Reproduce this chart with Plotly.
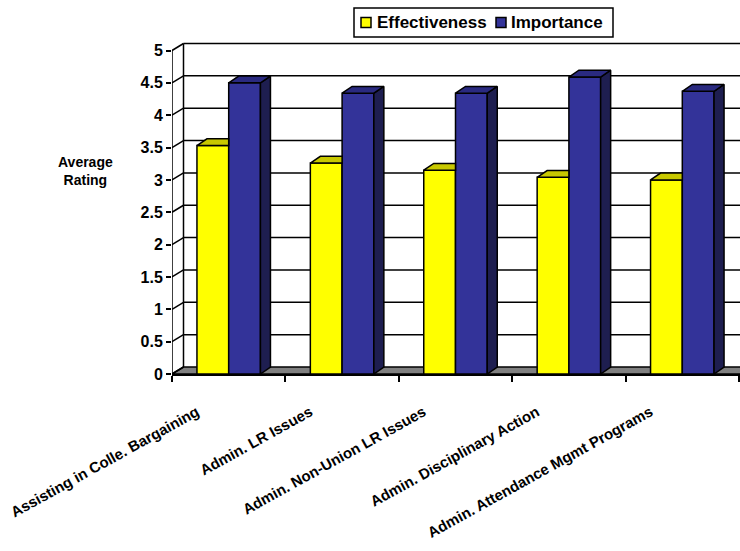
import plotly.graph_objects as go

# ---------------- data ----------------
categories = [
    "Assisting in Colle. Bargaining",
    "Admin. LR Issues",
    "Admin. Non-Union LR Issues",
    "Admin. Disciplinary Action",
    "Admin. Attendance Mgmt Programs",
]
effectiveness = [3.53, 3.26, 3.15, 3.04, 3.00]
importance = [4.50, 4.34, 4.34, 4.59, 4.37]
y_tick_values = [0, 0.5, 1, 1.5, 2, 2.5, 3, 3.5, 4, 4.5, 5]
y_tick_labels = ["0", "0.5", "1", "1.5", "2", "2.5", "3", "3.5", "4", "4.5", "5"]
series_names = ["Effectiveness", "Importance"]

# ---------------- styling / layout ----------------
W, H = 740, 551
FONT = "Liberation Sans, Arial, sans-serif"
YEL, YEL_TOP = "#FFFF00", "#C8C800"
BLU, BLU_TOP, BLU_SIDE = "#333399", "#2A2A80", "#1E1E50"
LW = 1.5

px_left = 172.0
px_right_front = 739.0
px_zero = 374.0
px_unit_y = 64.7
px_top = 38.0

n = len(categories)
ppx = (px_right_front - px_left) / n
x_lo = -0.5
x_hi = x_lo + (W - px_left) / ppx
y_hi = (px_zero - px_top) / px_unit_y

# depth offsets (wall and bars) in data units
wdx, wdy = 11.5 / ppx, 7.0 / px_unit_y
bdx, bdy = 10.0 / ppx, 6.8 / px_unit_y

bargap = 0.44
bw = (1 - bargap) / 2

xs = list(range(n))
y_top_val = y_tick_values[-1]

fig = go.Figure()

fig.add_trace(go.Bar(x=xs, y=effectiveness, name=series_names[0], showlegend=False,
                     marker=dict(color=YEL, line=dict(color="black", width=LW))))
fig.add_trace(go.Bar(x=xs, y=importance, name=series_names[1], showlegend=False,
                     marker=dict(color=BLU, line=dict(color="black", width=LW))))

# 3D faces computed from the data
def poly_trace(polys, fill):
    px, py = [], []
    for p in polys:
        for (a, b) in p:
            px.append(a); py.append(b)
        px.append(p[0][0]); py.append(p[0][1])
        px.append(None); py.append(None)
    return go.Scatter(x=px, y=py, mode="lines", fill="toself", fillcolor=fill,
                      line=dict(color="black", width=LW), showlegend=False,
                      hoverinfo="skip")

yel_tops, blu_tops, blu_sides = [], [], []
for i, (e, m) in enumerate(zip(effectiveness, importance)):
    x0, xc, x1 = i - bw, i, i + bw
    if m > e:   # yellow top is clipped where it passes behind the blue bar
        yel_tops.append([(x0, e), (x0 + bdx, e + bdy), (xc, e + bdy), (xc, e)])
    else:
        yel_tops.append([(x0, e), (x0 + bdx, e + bdy), (xc + bdx, e + bdy), (xc, e)])
    blu_tops.append([(xc, m), (xc + bdx, m + bdy), (x1 + bdx, m + bdy), (x1, m)])
    blu_sides.append([(x1, 0), (x1, m), (x1 + bdx, m + bdy), (x1 + bdx, bdy)])

fig.add_trace(poly_trace(yel_tops, YEL_TOP))
fig.add_trace(poly_trace(blu_sides, BLU_SIDE))
fig.add_trace(poly_trace(blu_tops, BLU_TOP))

# walls, floor and gridlines
shapes = []
shapes.append(dict(type="path", xref="x", yref="y", layer="below",
                   path=f"M {x_lo},0 L {x_lo + wdx},{wdy} L {x_hi + 1},{wdy} L {x_hi + 1},0 Z",
                   fillcolor="#808080", line=dict(color="black", width=LW)))
for v in y_tick_values:
    if v > 0:
        shapes.append(dict(type="line", xref="x", yref="y", layer="below",
                           x0=x_lo + wdx, x1=x_hi + 1, y0=v + wdy, y1=v + wdy,
                           line=dict(color="black", width=LW)))
    shapes.append(dict(type="line", xref="x", yref="y", layer="below",
                       x0=x_lo, x1=x_lo + wdx, y0=v, y1=v + wdy,
                       line=dict(color="black", width=LW)))
shapes.append(dict(type="line", xref="x", yref="y", layer="below",
                   x0=x_lo + wdx, x1=x_lo + wdx, y0=wdy, y1=y_top_val + wdy,
                   line=dict(color="black", width=LW)))
shapes.append(dict(type="line", xref="x", yref="y", layer="above",
                   x0=x_lo, x1=x_lo, y0=0, y1=y_top_val,
                   line=dict(color="black", width=LW)))

# legend (box, swatches, labels)
def px2paper(x, y):
    return x / W, 1 - y / H

lg_x0, lg_y0, lg_x1, lg_y1 = 354, 8, 613, 37
lg_cy = (lg_y0 + lg_y1) / 2
swatch_x = [361, 496]
label_x = [375, 509]
a0, b0 = px2paper(lg_x0, lg_y0)
a1, b1 = px2paper(lg_x1, lg_y1)
shapes.append(dict(type="rect", xref="paper", yref="paper", x0=a0, x1=a1, y0=b1, y1=b0,
                   fillcolor="white", line=dict(color="black", width=LW), layer="above"))
annotations = []
for name, col, sx, tx in zip(series_names, [YEL, BLU], swatch_x, label_x):
    s0, t0 = px2paper(sx, lg_cy - 5)
    s1, t1 = px2paper(sx + 10, lg_cy + 5)
    shapes.append(dict(type="rect", xref="paper", yref="paper", x0=s0, x1=s1, y0=t1, y1=t0,
                       fillcolor=col, line=dict(color="black", width=LW), layer="above"))
    ax, ay = px2paper(tx, lg_cy)
    annotations.append(dict(text=name, xref="paper", yref="paper", x=ax, y=ay,
                            xanchor="left", yanchor="middle", showarrow=False,
                            font=dict(family=FONT, size=17, weight=700, color="black")))

annotations.append(dict(text="Average<br>Rating", xref="paper", yref="paper",
                        x=85 / W, y=1 - 171 / H, xanchor="center", yanchor="middle",
                        showarrow=False, align="center",
                        font=dict(family=FONT, size=14, weight=700, color="black")))

fig.update_layout(
    width=W, height=H,
    margin=dict(l=0, r=0, t=0, b=0),
    paper_bgcolor="white", plot_bgcolor="white",
    barmode="group", bargap=bargap, bargroupgap=0,
    font=dict(family=FONT, color="black"),
    shapes=shapes,
    annotations=annotations,
    showlegend=False,
)

fig.update_xaxes(
    domain=[px_left / W, 1.0], range=[x_lo, x_hi], autorange=False,
    tickmode="array", tickvals=xs, ticktext=categories, tickangle=-29,
    ticklabelshift=-32, ticklabelstandoff=22,
    ticks="", showgrid=False, zeroline=False,
    showline=True, linecolor="black", linewidth=LW,
    tickfont=dict(family=FONT, size=15, weight=700, color="black"),
    minor=dict(tickmode="array", tickvals=[i - 0.5 for i in range(n + 1)],
               ticks="outside", ticklen=6, tickwidth=LW, tickcolor="black", showgrid=False),
    automargin=False, fixedrange=True,
)
fig.update_yaxes(
    domain=[1 - px_zero / H, 1 - px_top / H], range=[0, y_hi], autorange=False,
    tickmode="array", tickvals=y_tick_values, ticktext=y_tick_labels,
    ticks="outside", ticklen=5, tickwidth=LW, tickcolor="black",
    showline=False, showgrid=False, zeroline=False,
    tickfont=dict(family=FONT, size=16, weight=700, color="black"),
    automargin=False, fixedrange=True,
)

fig.write_html("out.html")
